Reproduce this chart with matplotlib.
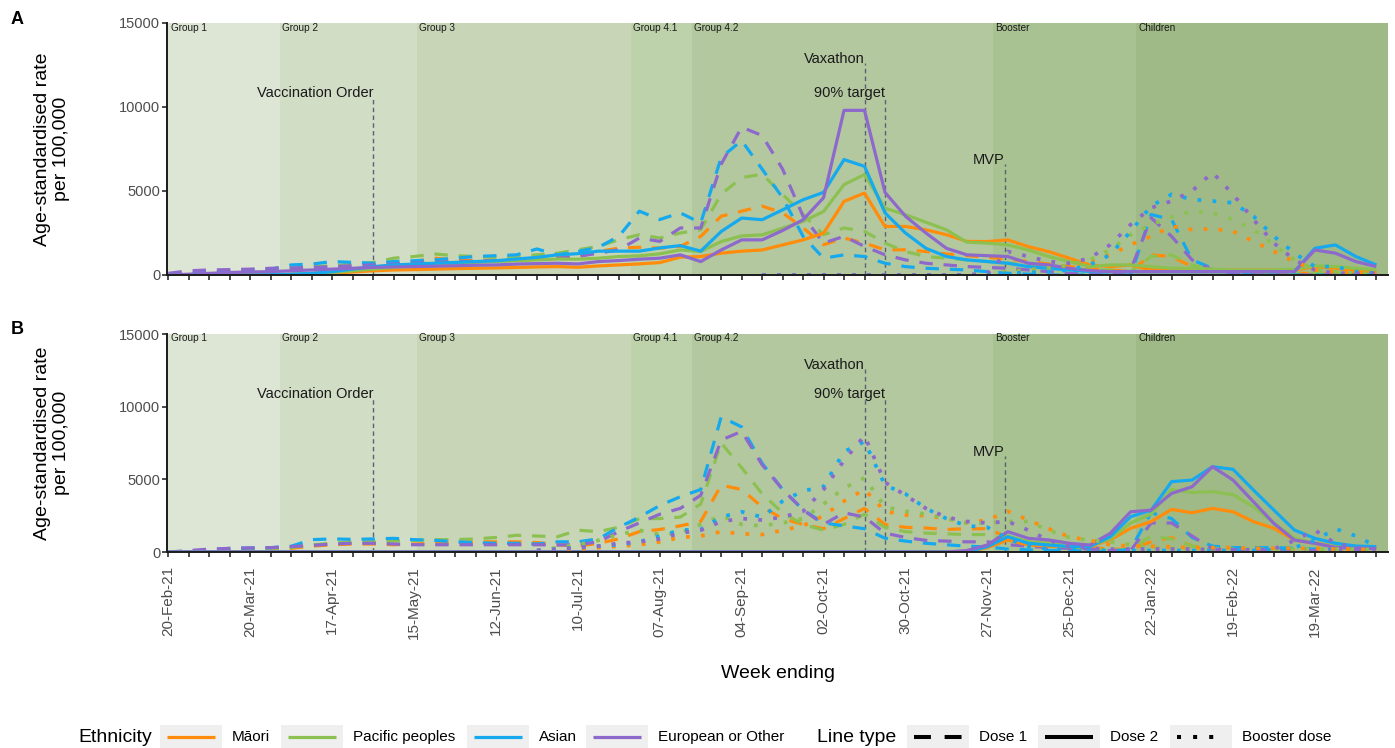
import numpy as np
import pandas as pd
import matplotlib
matplotlib.use('Agg')
import matplotlib.pyplot as plt
import matplotlib.dates as mdates
from matplotlib.patches import Rectangle

plt.rcParams['font.family'] = ['Liberation Sans', 'DejaVu Sans']

nan = np.nan

week_ending = pd.date_range('2021-02-20', periods=60, freq='7D')
tick_labels = ['20-Feb-21', '20-Mar-21', '17-Apr-21', '15-May-21', '12-Jun-21',
               '10-Jul-21', '07-Aug-21', '04-Sep-21', '02-Oct-21', '30-Oct-21',
               '27-Nov-21', '25-Dec-21', '22-Jan-22', '19-Feb-22', '19-Mar-22']

ethnicities = ['Māori', 'Pacific peoples', 'Asian', 'European or Other']
eth_colors = ['#ff8c0a', '#8cc152', '#16a9ee', '#8d69cc']
doses = ['Dose 1', 'Dose 2', 'Booster dose']

phase_names = ['Group 1', 'Group 2', 'Group 3', 'Group 4.1', 'Group 4.2', 'Booster', 'Children']
phase_starts = ['2021-02-20', '2021-03-30', '2021-05-16', '2021-07-28', '2021-08-18',
                '2021-11-29', '2022-01-17']
phase_colors = ['#dde5d4', '#d2ddc6', '#c8d5b7', '#bdd1ab', '#b4c8a0', '#a9c292', '#9fba87']

events = ['Vaccination Order', 'Vaxathon', '90% target', 'MVP']
event_dates = ['2021-05-01', '2021-10-16', '2021-10-23', '2021-12-03']
event_heights = [10600, 12600, 10600, 6600]

# ---- panel A ----
a_dose1_maori = [0, 20, 50, 100, 150, 200, 250, 300, 350, 400,
                 500, 600, 800, 1000, 900, 850, 900, 950, 1000, 1050,
                 1100, 1400, 1600, 1650, 1600, 1700, 2300, 3500, 3800, 4100,
                 3700, 2800, 1800, 2200, 1900, 1500, 1500, 1400, 1250, 1150,
                 1050, 950, 800, 650, 500, 400, 300, 200, 1200, 1100,
                 500, 300, 200, 150, 100, 100, 100, 100, 100, 100]
a_dose1_pacific = [0, 50, 100, 200, 300, 350, 400, 500, 550, 650,
                   750, 1000, 1100, 1250, 1150, 1100, 1050, 1100, 1200, 1300,
                   1500, 1700, 2100, 2400, 2200, 2500, 2700, 4800, 5800, 6000,
                   4800, 3600, 2400, 2800, 2600, 1900, 1400, 1100, 1000, 900,
                   800, 700, 600, 500, 400, 300, 300, 200, 1100, 1200,
                   600, 300, 200, 150, 100, 100, 100, 100, 100, 100]
a_dose1_asian = [50, 100, 200, 250, 300, 350, 600, 650, 800, 750,
                 700, 800, 850, 900, 1000, 1100, 1150, 1200, 1550, 1200,
                 1400, 1650, 2300, 3800, 3300, 3700, 3100, 7000, 8000, 6300,
                 4600, 2300, 1000, 1200, 1100, 700, 500, 400, 350, 300,
                 200, 100, 50, 0, 0, 0, 0, 0, 3600, 3300,
                 900, 400, 100, 0, 0, 0, 0, 0, 0, 0]
a_dose1_european = [100, 250, 300, 320, 350, 400, 420, 450, 500, 550,
                    600, 650, 700, 750, 800, 820, 850, 900, 950, 1000,
                    1100, 1300, 1500, 2200, 2000, 2800, 2800, 6600, 8800, 8300,
                    6300, 3500, 1900, 2300, 1700, 1200, 900, 700, 600, 500,
                    450, 400, 300, 200, 100, 50, 0, 300, 3400, 2300,
                    900, 300, 100, 0, 0, 0, 0, 0, 0, 0]

a_dose2_maori = [0, 0, 0, 0, 0, 10, 20, 50, 100, 180,
                 250, 300, 320, 350, 380, 400, 420, 450, 480, 500,
                 460, 540, 600, 660, 740, 1060, 1100, 1300, 1420, 1490,
                 1790, 2090, 2490, 4380, 4880, 2890, 2890, 2690, 2400, 2000,
                 1990, 2090, 1690, 1390, 1000, 600, 500, 600, 300, 300,
                 300, 300, 300, 300, 300, 300, 500, 400, 260, 200]
a_dose2_pacific = [0, 0, 0, 0, 0, 10, 30, 80, 150, 250,
                   350, 450, 550, 650, 700, 750, 800, 850, 900, 950,
                   940, 1000, 1100, 1140, 1260, 1490, 1400, 1990, 2330, 2390,
                   2790, 3190, 3780, 5380, 5980, 3980, 3590, 3140, 2690, 1950,
                   1900, 1790, 1490, 1100, 800, 500, 600, 600, 500, 400,
                   400, 350, 300, 300, 300, 350, 550, 500, 400, 300]
a_dose2_asian = [0, 0, 0, 0, 0, 20, 50, 100, 200, 350,
                 500, 600, 650, 700, 750, 800, 850, 950, 1050, 1200,
                 1270, 1420, 1420, 1420, 1610, 1750, 1420, 2590, 3390, 3290,
                 3880, 4480, 4920, 6870, 6470, 3700, 2500, 1590, 1100, 900,
                 800, 700, 500, 400, 300, 200, 200, 200, 200, 200,
                 200, 200, 200, 200, 200, 200, 1590, 1790, 1100, 600]
a_dose2_european = [0, 50, 100, 150, 180, 200, 250, 300, 350, 400,
                    450, 480, 500, 520, 550, 580, 600, 650, 680, 700,
                    660, 800, 860, 940, 1000, 1200, 800, 1490, 2090, 2090,
                    2650, 3290, 4600, 9800, 9800, 4920, 3500, 2500, 1590, 1200,
                    1150, 1100, 700, 600, 400, 260, 200, 200, 200, 200,
                    200, 200, 200, 200, 200, 200, 1490, 1300, 800, 500]

a_booster_maori = [nan] * 29 + [0] * 11 + [
                   50, 200, 300, 400, 600, 800, 1200, 1800, 2300, 2900,
                   2700, 2750, 2600, 2000, 1400, 800, 300, 200, 100, 100]
a_booster_pacific = [nan] * 29 + [0] * 11 + [
                     50, 200, 300, 400, 600, 900, 1500, 2400, 3000, 3450,
                     3800, 3700, 3300, 2700, 1800, 900, 300, 200, 100, 100]
a_booster_asian = [nan] * 29 + [0] * 11 + [
                   50, 100, 150, 200, 300, 600, 1200, 2600, 4100, 4800,
                   4500, 4400, 4300, 3500, 2300, 1300, 500, 500, 200, 100]
a_booster_european = [nan] * 29 + [0] * 11 + [
                      100, 1400, 1100, 800, 700, 1000, 1800, 3000, 4000, 4400,
                      5000, 6100, 4800, 3300, 1900, 900, 300, 100, 100, 100]

# ---- panel B ----
b_dose1_maori = [0, 20, 50, 100, 150, 200, 250, 400, 500, 550,
                 550, 500, 550, 600, 650, 700, 700, 700, 650, 500,
                 400, 600, 900, 1400, 1550, 1800, 2100, 4600, 4300, 3100,
                 2300, 1900, 1600, 2300, 3000, 1900, 1700, 1650, 1550, 1600,
                 1600, 1000, 700, 600, 400, 300, 200, 200, 700, 1000,
                 400, 200, 150, 150, 150, 150, 150, 150, 150, 150]
b_dose1_pacific = [0, 20, 60, 120, 200, 250, 300, 500, 600, 700,
                   700, 750, 800, 850, 850, 900, 1000, 1150, 1100, 1050,
                   1500, 1400, 1700, 2300, 2300, 2400, 3300, 7500, 5800, 4000,
                   2700, 1900, 1500, 1900, 2600, 1700, 1400, 1300, 1250, 1200,
                   1200, 800, 500, 400, 300, 200, 100, 200, 1100, 900,
                   400, 200, 100, 100, 100, 100, 100, 100, 100, 100]
b_dose1_asian = [0, 50, 150, 250, 280, 300, 400, 850, 900, 870,
                 900, 940, 850, 800, 700, 650, 600, 600, 550, 700,
                 700, 900, 1700, 2400, 3200, 3800, 4300, 9300, 8600, 6100,
                 4300, 2900, 2000, 1800, 1600, 950, 750, 600, 500, 400,
                 350, 200, 150, 100, 100, 50, 0, 200, 2700, 2300,
                 1000, 400, 300, 300, 300, 250, 200, 200, 200, 200]
b_dose1_european = [0, 100, 200, 250, 280, 300, 370, 450, 550, 600,
                    600, 550, 500, 500, 500, 500, 500, 500, 500, 480,
                    500, 700, 1400, 2000, 2600, 3000, 3900, 7700, 8300, 6000,
                    4300, 2900, 1900, 2700, 2400, 1300, 1000, 800, 750, 700,
                    700, 500, 400, 300, 250, 200, 100, 100, 2000, 2000,
                    1100, 200, 150, 100, 100, 100, 100, 100, 100, 100]

b_dose2_maori = [0] * 39 + [0, 300, 830, 480, 410, 370, 400, 830, 1630, 2090, 2930,
                            2700, 3000, 2770, 2090, 1630, 830, 600, 400, 300, 250]
b_dose2_pacific = [0] * 39 + [0, 400, 1100, 700, 600, 500, 450, 900, 2000, 2600, 4300,
                              4100, 4150, 3950, 3100, 2000, 950, 600, 400, 300, 250]
b_dose2_asian = [0] * 39 + [0, 370, 1050, 600, 480, 370, 370, 1050, 2430, 2880, 4840,
                            4950, 5870, 5690, 4260, 2880, 1510, 940, 600, 410, 370]
b_dose2_european = [0] * 39 + [100, 480, 1400, 940, 830, 600, 480, 1280, 2770, 2880, 4030,
                               4490, 5870, 4950, 3460, 1960, 820, 600, 320, 250, 250]

b_booster_maori = [nan] * 18 + [
                   100, 150, 200, 300, 400, 500, 700, 1000, 1100, 1400,
                   1250, 1200, 1500, 1800, 2500, 3500, 4300, 2800, 2550, 2500,
                   2300, 2000, 2200, 2800, 2200, 1600, 1050, 800, 500, 400,
                   400, 350, 300, 300, 300, 250, 250, 250, 250, 200,
                   200, 150]
b_booster_pacific = [nan] * 18 + [
                     100, 300, 500, 800, 1200, 1500, 1200, 1300, 1900, 2500,
                     1900, 1800, 2000, 2300, 3300, 4400, 5100, 3100, 2800, 2600,
                     2300, 2000, 2000, 2100, 2100, 1500, 1000, 800, 700, 500,
                     300, 250, 200, 200, 200, 200, 200, 200, 200, 200,
                     200, 150]
b_booster_asian = [nan] * 18 + [
                   100, 200, 300, 400, 500, 700, 1100, 1500, 1550, 2400,
                   2770, 2400, 3500, 4200, 4500, 6900, 7600, 4600, 4000, 3000,
                   2300, 1800, 1700, 900, 400, 200, 150, 100, 100, 100,
                   100, 100, 100, 100, 100, 100, 150, 300, 800, 1600,
                   1100, 400]
b_booster_european = [nan] * 18 + [
                      100, 200, 300, 400, 600, 700, 900, 1300, 1500, 2100,
                      2300, 2200, 2400, 2800, 4300, 6300, 8000, 4800, 3900, 3000,
                      2400, 2100, 2000, 2100, 1500, 800, 400, 250, 200, 200,
                      200, 200, 200, 150, 150, 150, 200, 800, 1500, 600,
                      300, 200]

panel_a = {
    'Dose 1': [a_dose1_maori, a_dose1_pacific, a_dose1_asian, a_dose1_european],
    'Dose 2': [a_dose2_maori, a_dose2_pacific, a_dose2_asian, a_dose2_european],
    'Booster dose': [a_booster_maori, a_booster_pacific, a_booster_asian, a_booster_european],
}
panel_b = {
    'Dose 1': [b_dose1_maori, b_dose1_pacific, b_dose1_asian, b_dose1_european],
    'Dose 2': [b_dose2_maori, b_dose2_pacific, b_dose2_asian, b_dose2_european],
    'Booster dose': [b_booster_maori, b_booster_pacific, b_booster_asian, b_booster_european],
}

dose_styles = {
    'Dose 1': dict(linestyle=(0, (4.2, 3.4)), lw=2.3),
    'Dose 2': dict(linestyle='-', lw=2.3),
    'Booster dose': dict(linestyle=(0, (1.0, 3.0)), lw=2.7),
}

x = mdates.date2num(week_ending.to_pydatetime())
phase_x = mdates.date2num(pd.to_datetime(phase_starts).to_pydatetime())
event_x = mdates.date2num(pd.to_datetime(event_dates).to_pydatetime())
x_min = x[0] - 0.5
x_max = mdates.date2num(pd.Timestamp('2022-04-13').to_pydatetime())

W, H = 1395, 748
fig = plt.figure(figsize=(W / 100, H / 100), dpi=100)


def px_axes(left, top, right, bottom):
    return fig.add_axes([left / W, 1 - bottom / H, (right - left) / W, (bottom - top) / H])


def draw_panel(ax, series, letter_y, letter):
    for i, name in enumerate(phase_names):
        end = phase_x[i + 1] if i + 1 < len(phase_x) else x_max
        ax.axvspan(max(phase_x[i], x_min), end, color=phase_colors[i], lw=0, zorder=0)
        ax.text(max(phase_x[i], x_min) + 0.8, 14700, name, fontsize=7.2, ha='left',
                va='center', color='#1a1a1a', zorder=1)
    for ev, ex, eh in zip(events, event_x, event_heights):
        ax.plot([ex, ex], [0, eh], color='#596172', lw=1.0, dashes=(3.2, 2.4), zorder=1)
        ax.text(ex, eh, ev, ha='right', va='baseline', fontsize=10.5, color='#1a1a1a', zorder=1)
    for dose in doses:
        for k, col in enumerate(eth_colors):
            ax.plot(x, series[dose][k], color=col, zorder=2,
                    solid_capstyle='butt', dash_capstyle='butt', **dose_styles[dose])

    ax.set_xlim(x_min, x_max)
    ax.set_ylim(0, 15000)
    ax.set_yticks([0, 5000, 10000, 15000])
    ax.set_yticklabels(['0', '5000', '10000', '15000'])
    ax.set_xticks(x)
    for side in ['top', 'right']:
        ax.spines[side].set_visible(False)
    for side in ['left', 'bottom']:
        ax.spines[side].set_linewidth(1.4)
        ax.spines[side].set_color('#1a1a1a')
    ax.tick_params(axis='both', direction='out', length=3.3, width=1.1, color='#1a1a1a',
                   labelsize=10.5, labelcolor='#4d4d4d', pad=1.5)
    ax.set_facecolor('white')

    fig.text(17 / W, 1 - letter_y / H, letter, fontsize=13, fontweight='bold',
             ha='center', va='center')


axA = px_axes(167, 23, 1388, 275)
axB = px_axes(167, 334, 1388, 552)
draw_panel(axA, panel_a, 19, 'A')
draw_panel(axB, panel_b, 330, 'B')

axA.set_xticklabels([])
labels = [''] * len(x)
labels[::4] = tick_labels
axB.set_xticklabels(labels, rotation=90, fontsize=11, color='#4d4d4d')
axB.tick_params(axis='x', pad=7)

for ax in (axA, axB):
    pos = ax.get_position()
    fig.text(52 / W, (pos.y0 + pos.y1) / 2, 'Age-standardised rate\nper 100,000',
             rotation=90, ha='center', va='center', fontsize=14, linespacing=1.2)

fig.text(778 / W, 1 - 673 / H, 'Week ending', ha='center', va='center', fontsize=14)

# legend drawn in pixel space along the bottom
lg = fig.add_axes([0, 0, 1, 1])
lg.set_xlim(0, W)
lg.set_ylim(H, 0)
lg.axis('off')
lg.patch.set_alpha(0)

key_w, key_h, key_top, key_mid = 62, 24, 725, 737
lg.text(78, key_mid, 'Ethnicity', fontsize=14, ha='left', va='center')
eth_key_x = [160, 281, 467, 586]
for kx, name, col in zip(eth_key_x, ethnicities, eth_colors):
    lg.add_patch(Rectangle((kx, key_top), key_w, key_h, facecolor='#efefef', edgecolor='none'))
    lg.plot([kx + 7, kx + key_w - 7], [key_mid, key_mid], color=col, lw=2.3,
            solid_capstyle='butt')
    lg.text(kx + key_w + 10, key_mid, name, fontsize=11, ha='left', va='center')

lg.text(817, key_mid, 'Line type', fontsize=14, ha='left', va='center')
dose_key_x = [907, 1038, 1170]
for kx, name in zip(dose_key_x, doses):
    lg.add_patch(Rectangle((kx, key_top), key_w, key_h, facecolor='#efefef', edgecolor='none'))
    style = dict(dose_styles[name])
    style['lw'] = 2.9
    lg.plot([kx + 7, kx + key_w - 7], [key_mid, key_mid], color='black',
            solid_capstyle='butt', dash_capstyle='butt', **style)
    lg.text(kx + key_w + 10, key_mid, name, fontsize=11, ha='left', va='center')

fig.savefig('out.png', dpi=100)
